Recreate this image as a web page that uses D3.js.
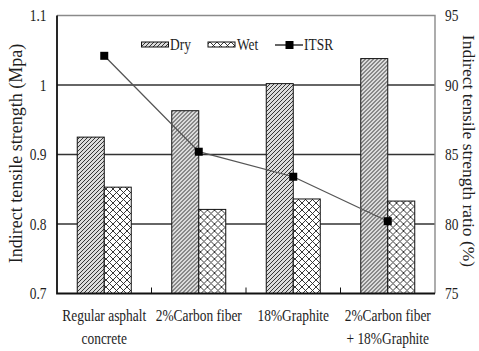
<!DOCTYPE html>
<html>
<head>
<meta charset="utf-8">
<script src="https://cdn.jsdelivr.net/npm/d3@7"></script>
<style>
  html, body { margin: 0; padding: 0; background: #fff; }
  svg { display: block; }
  svg text { font-family: "Liberation Serif", Tinos, "Times New Roman", Times, serif; fill: #1e1e1e; }
</style>
</head>
<body>
<svg id="chart" width="479" height="351"></svg>
<script>
// Mixtures tested
const categories = [
  ["Regular asphalt", "concrete"],
  ["2%Carbon fiber"],
  ["18%Graphite"],
  ["2%Carbon fiber", "+ 18%Graphite"]
];
// Indirect tensile strength (MPa)
const dryValues = [0.925, 0.963, 1.002, 1.038];
const wetValues = [0.853, 0.821, 0.836, 0.833];
// Indirect tensile strength ratio (%)
const itsrValues = [92.1, 85.2, 83.4, 80.2];

const leftTicks = [0.7, 0.8, 0.9, 1.0, 1.1];
const leftTickLabels = ["0.7", "0.8", "0.9", "1", "1.1"];
const rightTicks = [75, 80, 85, 90, 95];
const seriesNames = ["Dry", "Wet", "ITSR"];

const svg = d3.select("#chart");
const plot = { left: 57, right: 435, top: 15.5, bottom: 293.5 };
const sx = 0.84; // narrow serif lettering
const serif = '"Liberation Serif", Tinos, "Times New Roman", Times, serif';

const x = d3.scaleBand().domain(d3.range(categories.length)).range([plot.left, plot.right]).padding(0);
const bw = x.bandwidth();
const barW = 27;
const xSub = d3.scaleBand().domain(["Dry", "Wet"]).range([bw / 2 - barW, bw / 2 + barW]).padding(0);
const yL = d3.scaleLinear().domain([0.7, 1.1]).range([plot.bottom, plot.top]);
const yR = d3.scaleLinear().domain([75, 95]).range([plot.bottom, plot.top]);

// fill patterns
const defs = svg.append("defs");
const pDry = defs.append("pattern").attr("id", "hatchDry")
  .attr("patternUnits", "userSpaceOnUse").attr("width", 4).attr("height", 4);
pDry.append("rect").attr("width", 4).attr("height", 4).attr("fill", "#dcdcdc");
pDry.append("path").attr("d", "M-1,1 l2,-2 M0,4 l4,-4 M3,5 l2,-2")
  .attr("stroke", "#222").attr("stroke-width", 0.9);

const pWet = defs.append("pattern").attr("id", "hatchWet")
  .attr("patternUnits", "userSpaceOnUse").attr("width", 7).attr("height", 7);
pWet.append("rect").attr("width", 7).attr("height", 7).attr("fill", "#fff");
pWet.append("path").attr("d", "M0,0 L7,7 M7,0 L0,7")
  .attr("stroke", "#222").attr("stroke-width", 0.9);

const fills = { Dry: "url(#hatchDry)", Wet: "url(#hatchWet)" };

function stext(g, str, tx, ty, anchor, size) {
  return g.append("text")
    .attr("transform", `translate(${tx},${ty}) scale(${sx},1)`)
    .attr("text-anchor", anchor || "start")
    .attr("font-family", serif)
    .attr("font-size", size || 16)
    .text(str);
}

// gridlines
svg.append("g").selectAll("line")
  .data(leftTicks.filter(t => t > 0.7 && t < 1.1))
  .join("line")
  .attr("x1", plot.left).attr("x2", plot.right)
  .attr("y1", d => yL(d)).attr("y2", d => yL(d))
  .attr("stroke", "#333").attr("stroke-width", 1.4);

// top and right frame
svg.append("path")
  .attr("d", `M${plot.left},${plot.top} H${plot.right} V${plot.bottom}`)
  .attr("fill", "none").attr("stroke", "#8a8a8a").attr("stroke-width", 1.4);

// bars
const groups = svg.append("g").selectAll("g")
  .data(categories.map((c, i) => ({ i, Dry: dryValues[i], Wet: wetValues[i] })))
  .join("g")
  .attr("transform", d => `translate(${x(d.i)},0)`);

groups.selectAll("rect")
  .data(d => ["Dry", "Wet"].map(k => ({ k, v: d[k] })))
  .join("rect")
  .attr("x", d => xSub(d.k))
  .attr("width", xSub.bandwidth())
  .attr("y", d => yL(d.v))
  .attr("height", d => yL(0.7) - yL(d.v))
  .attr("fill", d => fills[d.k])
  .attr("stroke", "#111").attr("stroke-width", 1);

// ITSR line
const linePts = itsrValues.map((v, i) => [x(i) + bw / 2, yR(v)]);
svg.append("path")
  .attr("d", d3.line()(linePts))
  .attr("fill", "none").attr("stroke", "#555").attr("stroke-width", 1.3);
svg.append("g").selectAll("rect")
  .data(linePts)
  .join("rect")
  .attr("x", d => d[0] - 4).attr("y", d => d[1] - 4)
  .attr("width", 8).attr("height", 8).attr("fill", "#000");

// left and bottom axes
svg.append("path")
  .attr("d", `M${plot.left},${plot.top} V${plot.bottom} H${plot.right}`)
  .attr("fill", "none").attr("stroke", "#111").attr("stroke-width", 1.8);

// category separator ticks
svg.append("g").selectAll("line")
  .data(d3.range(1, categories.length))
  .join("line")
  .attr("x1", d => x(d)).attr("x2", d => x(d))
  .attr("y1", plot.bottom).attr("y2", plot.bottom - 6)
  .attr("stroke", "#111").attr("stroke-width", 1);

// left tick labels
const gL = svg.append("g");
leftTicks.forEach((t, i) => stext(gL, leftTickLabels[i], 46.5, yL(t) + 5.5, "end"));

// right tick labels
const gR = svg.append("g");
rightTicks.forEach(t => stext(gR, String(t), 445, yR(t) + 5.5, "start"));

// category labels
const gC = svg.append("g");
categories.forEach((lines, i) => {
  lines.forEach((ln, j) => stext(gC, ln, x(i) + bw / 2, 321 + j * 23, "middle"));
});

// axis titles
svg.append("text")
  .attr("transform", `translate(22,153.5) rotate(-90)`)
  .attr("text-anchor", "middle").attr("font-size", 18).attr("font-family", serif)
  .text("Indirect tensile strength (Mpa)");
svg.append("text")
  .attr("transform", `translate(463,151) rotate(90)`)
  .attr("text-anchor", "middle").attr("font-size", 17.5).attr("font-family", serif)
  .text("Indirect tensile strength ratio (%)");

// legend
const gLeg = svg.append("g");
gLeg.append("rect").attr("x", 141.5).attr("y", 42).attr("width", 27).attr("height", 5)
  .attr("fill", fills.Dry).attr("stroke", "#111").attr("stroke-width", 1);
stext(gLeg, seriesNames[0], 170, 49.5);
gLeg.append("rect").attr("x", 208).attr("y", 42).attr("width", 27).attr("height", 5)
  .attr("fill", fills.Wet).attr("stroke", "#111").attr("stroke-width", 1);
stext(gLeg, seriesNames[1], 237, 49.5);
gLeg.append("line").attr("x1", 275).attr("x2", 303).attr("y1", 45).attr("y2", 45)
  .attr("stroke", "#111").attr("stroke-width", 1.3);
gLeg.append("rect").attr("x", 285.5).attr("y", 41).attr("width", 8).attr("height", 8).attr("fill", "#000");
stext(gLeg, seriesNames[2], 304, 49.5);
</script>
</body>
</html>
